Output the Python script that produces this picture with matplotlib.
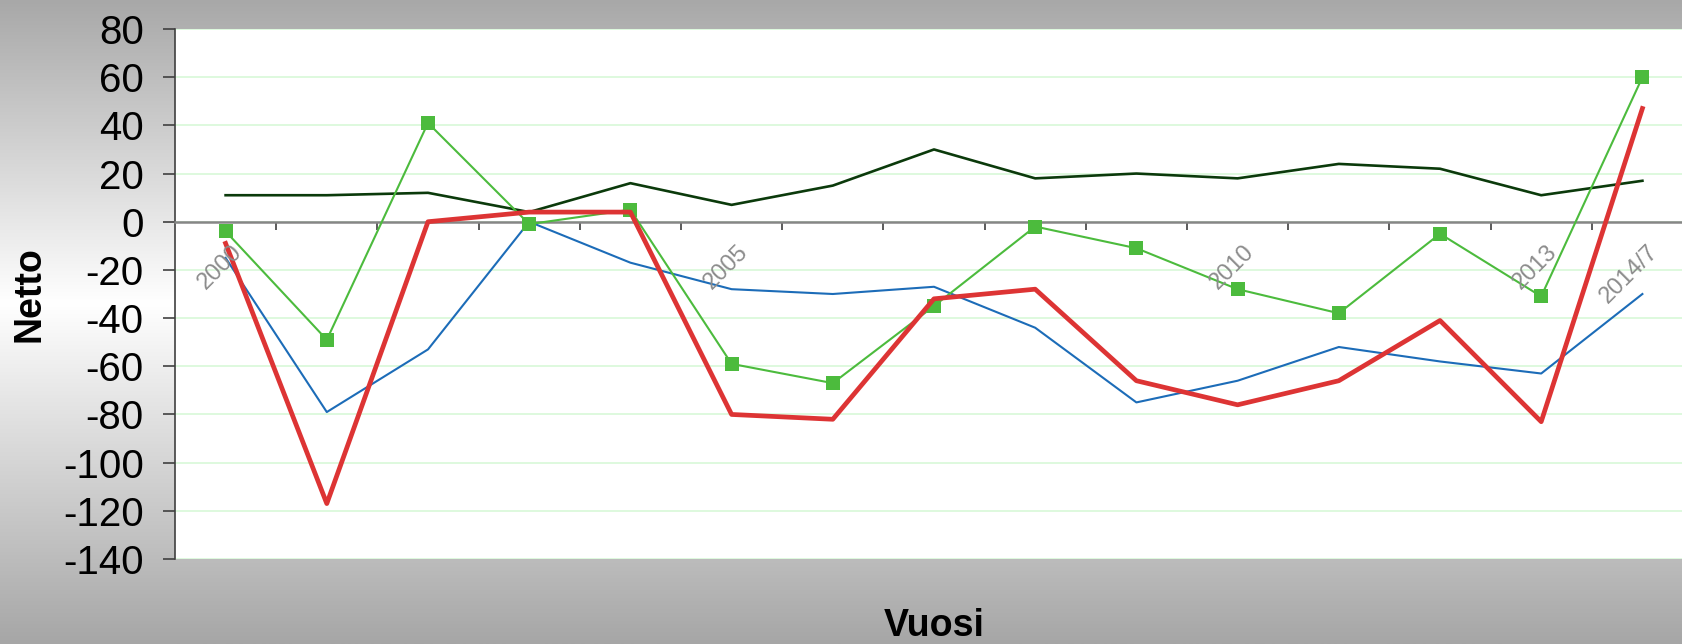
import numpy as np
import matplotlib
matplotlib.use("Agg")
from matplotlib import pyplot as plt

plt.rcParams["font.family"] = ["Liberation Sans", "DejaVu Sans"]
plt.rcParams["axes.unicode_minus"] = False

# data
years = ["2000", "2001", "2002", "2003", "2004", "2005", "2006", "2007",
         "2008", "2009", "2010", "2011", "2012", "2013", "2014/7"]
shown_years = ["2000", "2005", "2010", "2013", "2014/7"]
dark_series = [11, 11, 12, 4, 16, 7, 15, 30, 18, 20, 18, 24, 22, 11, 17]
blue_series = [-15, -79, -53, 0, -17, -28, -30, -27, -44, -75, -66, -52, -58, -63, -30]
green_series = [-4, -49, 41, -1, 5, -59, -67, -35, -2, -11, -28, -38, -5, -31, 60]
red_series = [-9, -117, 0, 4, 4, -80, -82, -32, -28, -66, -76, -66, -41, -83, 47]
y_ticks = [-140, -120, -100, -80, -60, -40, -20, 0, 20, 40, 60, 80]

W, H, DPI = 1683, 644, 100
fig = plt.figure(figsize=(W / DPI, H / DPI), dpi=DPI)

# grey-white-grey vertical gradient behind everything
bg = fig.add_axes([0, 0, 1, 1], zorder=-10)
grad = np.interp(np.linspace(0, 1, H), [0, 0.47, 1], [168, 255, 166]) / 255
img = np.repeat(np.repeat(grad[:, None, None], 2, axis=1), 3, axis=2)
bg.imshow(img, aspect="auto", extent=[0, 1, 0, 1])
bg.axis("off")

ax = fig.add_axes([175 / W, 85 / H, 1518 / W, 530 / H], zorder=1)
ax.set_facecolor("white")
x = np.arange(len(years))

ax.plot(x, dark_series, color="#0b3a0b", lw=1.9, zorder=3)
ax.plot(x, blue_series, color="#1c6cb8", lw=1.5, zorder=3)
ax.plot(x, green_series, color="#4cbb3d", lw=1.5, marker="s", ms=10,
        markeredgewidth=0, zorder=4)
ax.plot(x, red_series, color="#dd3434", lw=3.4, zorder=5)

ax.set_xlim(-0.5, len(years) - 0.5)
ax.set_ylim(-140, 80)
ax.set_yticks(y_ticks)
ax.set_yticklabels([str(v) for v in y_ticks])
ax.yaxis.grid(True, color="#d8f8d8", lw=1.2)
ax.set_axisbelow(True)

ax.spines["top"].set_visible(False)
ax.spines["right"].set_visible(False)
ax.spines["left"].set_color("#404040")
ax.spines["left"].set_linewidth(1.2)
ax.spines["bottom"].set_position(("data", 0))
ax.spines["bottom"].set_color("#868686")
ax.spines["bottom"].set_linewidth(1.8)
ax.spines["bottom"].set_zorder(2.5)

ax.set_xticks(np.arange(0.5, len(years) - 1, 1))
ax.set_xticklabels([])
ax.tick_params(axis="x", direction="out", length=5.5, width=1.2, color="#404040")
ax.tick_params(axis="y", direction="out", length=8.5, width=1.2, color="#404040",
               pad=14, labelsize=29, labelcolor="black")

for i, yr in enumerate(years):
    if yr in shown_years:
        ax.annotate(yr, xy=(i, 0), xytext=(5, -19), textcoords="offset pixels",
                    rotation=45, rotation_mode="anchor", ha="right", va="top",
                    fontsize=17, color="#8c8c8c", annotation_clip=False, zorder=6)

fig.text(30 / W, 1 - 294 / H, "Netto", rotation=90, ha="center", va="center",
         fontsize=27, fontweight="bold")
fig.text(934 / W, 8 / H, "Vuosi", ha="center", va="baseline",
         fontsize=27, fontweight="bold")

fig.savefig("out.png", dpi=DPI)
